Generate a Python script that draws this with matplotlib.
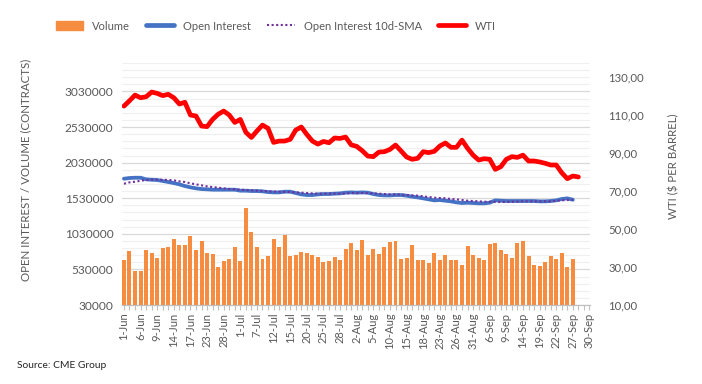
import numpy as np
from matplotlib import pyplot as plt
from matplotlib.ticker import FixedLocator, FuncFormatter
from matplotlib.patches import Patch
from matplotlib.lines import Line2D

plt.rcParams['font.family'] = ['Lato', 'DejaVu Sans']

# category axis: trading days 1-Jun .. 30-Sep (85 slots), label every 3rd
n_cat = 85
xlabels = ['1-Jun', '6-Jun', '9-Jun', '14-Jun', '17-Jun', '23-Jun', '28-Jun',
           '1-Jul', '7-Jul', '12-Jul', '15-Jul', '20-Jul', '25-Jul', '28-Jul',
           '2-Aug', '5-Aug', '10-Aug', '15-Aug', '18-Aug', '23-Aug', '26-Aug',
           '31-Aug', '6-Sep', '9-Sep', '14-Sep', '19-Sep', '22-Sep', '27-Sep',
           '30-Sep']

# volume (thousand contracts)
volume = [662, 788, 508, 508, 802, 760, 690, 831, 845, 957,
          873, 873, 999, 802, 929, 760, 746, 564, 648, 676,
          845, 648, 1392, 1055, 845, 676, 718, 957, 845, 1013,
          718, 732, 774, 760, 732, 704, 634, 648, 704, 662,
          817, 901, 802, 943, 732, 817, 746, 845, 915, 929,
          676, 690, 873, 662, 662, 620, 760, 662, 732, 662,
          662, 592, 859, 732, 690, 662, 887, 901, 802, 746,
          690, 901, 929, 718, 592, 578, 634, 718, 676, 760,
          564, 676]

# open interest (thousand contracts)
oi = [1804, 1814, 1818, 1818, 1795, 1790, 1786, 1772, 1758, 1743,
      1725, 1701, 1683, 1669, 1659, 1655, 1650, 1650, 1650, 1650,
      1650, 1636, 1636, 1631, 1631, 1627, 1617, 1612, 1612, 1622,
      1622, 1603, 1584, 1575, 1575, 1584, 1589, 1589, 1594, 1598,
      1608, 1612, 1608, 1612, 1608, 1589, 1575, 1570, 1570, 1575,
      1575, 1566, 1552, 1542, 1528, 1514, 1500, 1505, 1495, 1486,
      1472, 1463, 1467, 1463, 1458, 1458, 1467, 1500, 1495, 1491,
      1491, 1491, 1491, 1491, 1491, 1486, 1486, 1491, 1500, 1519,
      1528, 1509]

# open interest 10d-SMA (thousand contracts)
oi_sma = [1734, 1753, 1762, 1776, 1786, 1790, 1790, 1790, 1786, 1781,
          1767, 1758, 1739, 1725, 1711, 1697, 1687, 1678, 1669, 1659,
          1655, 1650, 1645, 1641, 1636, 1631, 1627, 1622, 1622, 1617,
          1617, 1612, 1608, 1603, 1598, 1594, 1594, 1594, 1594, 1594,
          1598, 1603, 1603, 1603, 1603, 1598, 1594, 1589, 1584, 1584,
          1580, 1575, 1570, 1566, 1556, 1547, 1537, 1533, 1528, 1519,
          1514, 1505, 1495, 1491, 1486, 1481, 1481, 1477, 1477, 1477,
          1481, 1481, 1486, 1486, 1486, 1486, 1486, 1486, 1495, 1500,
          1505, 1509]

# WTI ($ per barrel)
wti = [114.7, 117.5, 120.5, 119.1, 119.6, 122.1, 121.4, 120.2, 120.9, 119.1,
       115.8, 116.7, 110.0, 109.5, 104.2, 103.9, 107.7, 110.4, 112.1, 110.0,
       106.1, 107.7, 100.9, 98.2, 101.6, 104.7, 103.0, 95.6, 96.3, 96.3,
       97.2, 102.1, 103.7, 99.8, 96.3, 94.7, 96.1, 95.4, 97.9, 97.7,
       98.4, 94.3, 93.5, 91.2, 88.4, 88.1, 90.5, 90.7, 91.9, 94.2,
       91.1, 87.9, 86.7, 87.2, 90.7, 90.2, 90.9, 93.7, 95.3, 93.0,
       93.0, 96.8, 92.5, 88.9, 86.3, 87.0, 86.7, 81.4, 82.8, 86.7,
       88.1, 87.7, 88.9, 85.8, 85.8, 85.3, 84.6, 83.7, 83.7, 79.6,
       76.5, 77.9, 77.4]

c_bar = '#F68C3F'
c_oi = '#4472C4'
c_sma = '#7030A0'
c_wti = '#FF0000'
c_txt = '#595959'

fig = plt.figure(figsize=(7.02, 3.84), dpi=100)
ax = fig.add_axes([0.1734, 0.2057, 0.8405 - 0.1734, 0.836 - 0.2057])
ax2 = ax.twinx()

vol = np.array(volume) * 1000
ax.bar(np.arange(len(vol)), vol, width=0.72, color=c_bar, zorder=2)
ax.plot(np.arange(len(oi)), np.array(oi) * 1000, color=c_oi, lw=2.7,
        solid_capstyle='round', zorder=3)
ax.plot(np.arange(len(oi_sma)), np.array(oi_sma) * 1000, color=c_sma, lw=1.5,
        ls=(0, (1, 1.2)), zorder=4)
ax2.plot(np.arange(len(wti)), wti, color=c_wti, lw=3.4,
         solid_capstyle='round', solid_joinstyle='round')

ax.set_xlim(-0.4, n_cat - 0.9)
ax.set_ylim(30000, 3430000)
ax2.set_ylim(10, 137.4)

ax.set_yticks(np.arange(30000, 3030001, 500000))
ax.yaxis.set_minor_locator(FixedLocator(np.arange(30000, 3430001, 100000)))
ax.yaxis.set_major_formatter(FuncFormatter(lambda v, p: '%d' % v))
ax.grid(axis='y', which='major', color='#D9D9D9', lw=0.9, zorder=0)
ax.grid(axis='y', which='minor', color='#F0F0F0', lw=0.9, zorder=0)
ax.set_axisbelow(True)

ax2.set_yticks(np.arange(10, 131, 20))
ax2.yaxis.set_major_formatter(FuncFormatter(lambda v, p: ('%.2f' % v).replace('.', ',')))

ax.set_xticks(range(0, n_cat, 3), xlabels, rotation=90)
ax.xaxis.set_minor_locator(FixedLocator(range(n_cat)))
ax.tick_params(axis='x', which='both', length=3.5, color='#BFBFBF', width=0.8,
               labelsize=8, labelcolor=c_txt, pad=2)
ax.tick_params(axis='y', which='both', length=0, labelsize=8.6, labelcolor=c_txt, pad=6)
ax2.tick_params(axis='y', length=0, labelsize=8.2, labelcolor=c_txt, pad=13)

for a in (ax, ax2):
    for s in ('top', 'left', 'right'):
        a.spines[s].set_visible(False)
    a.spines['bottom'].set_color('#BFBFBF')

fig.text(26 / 702, 1 - 170 / 384, 'OPEN INTEREST / VOLUME (CONTRACTS)', rotation=90,
         ha='center', va='center', fontsize=8.3, color=c_txt)
fig.text(674 / 702, 1 - 166 / 384, 'WTI ($ PER BARREL)', rotation=90,
         ha='center', va='center', fontsize=8.3, color=c_txt)
fig.text(17 / 702, 1 - 365 / 384, 'Source: CME Group', ha='left', va='center',
         fontsize=7.4, color='#262626')

handles = [Patch(color=c_bar),
           Line2D([], [], color=c_oi, lw=3.4, solid_capstyle='round'),
           Line2D([], [], color=c_sma, lw=1.5, ls=(0, (1, 1.2))),
           Line2D([], [], color=c_wti, lw=3.4, solid_capstyle='round')]
leg = fig.legend(handles, ['Volume', 'Open Interest', 'Open Interest 10d-SMA', 'WTI'],
                 loc='center left', bbox_to_anchor=(50 / 702, 1 - 26 / 384), ncol=4,
                 frameon=False, fontsize=8, handlelength=2.5, handleheight=0.9,
                 handletextpad=0.8, columnspacing=1.45, borderpad=0)
for t in leg.get_texts():
    t.set_color(c_txt)

fig.savefig('out.png', dpi=100)
